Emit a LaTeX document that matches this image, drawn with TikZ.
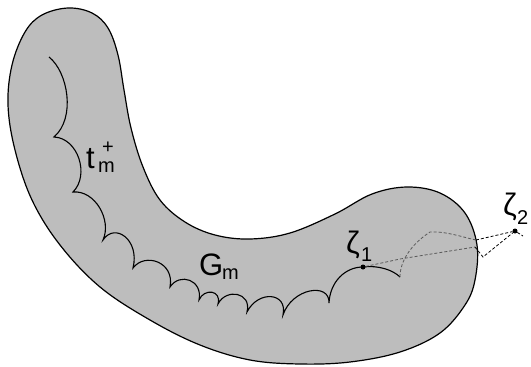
\documentclass[tikz,border=0pt]{standalone}
\usepackage{fontspec}
\setmainfont{Liberation Sans}
\begin{document}
\begin{tikzpicture}[x=1pt,y=-1pt,
  outline/.style={draw=black, line width=1.2pt, fill=black!26},
  scallop/.style={draw=black, line width=1.1pt},
  dsh/.style={dash pattern=on 3pt off 2pt, line width=0.8pt},
  dotnode/.style={circle, fill=black, inner sep=0pt, minimum size=5pt},
  lbl/.style={inner sep=0pt, anchor=base west, font=\fontsize{31}{33}\selectfont},
  idx/.style={inner sep=0pt, anchor=base west, font=\fontsize{20}{22}\selectfont}]
\useasboundingbox (0,0) rectangle (531,367);
% region G_m
\draw[outline] plot[smooth cycle, tension=0.6] coordinates {
 (68,8) (92,13) (108,28) (118,55) (124,90) (131,128) (143,167) (160,200)
 (185,222) (215,235) (250,239) (290,233) (335,214) (372,194) (407,187)
 (440,193) (465,213) (477,245) (475,280) (465,305) (440,333) (400,352)
 (350,362) (300,364) (250,360) (200,345) (150,320) (100,287) (60,245)
 (32,200) (15,150) (8,105) (12,65) (25,32) (42,15)};
% scalloped curve t_m^+
\coordinate (c0) at (49,57);
\coordinate (c11) at (400,277);
\draw[scallop] (c0) .. controls (68,72) and (76,118) .. (54,137)
 .. controls (78,138) and (90,175) .. (73,192)
 .. controls (95,190) and (112,220) .. (103,240)
 .. controls (115,222) and (140,240) .. (133,268)
 .. controls (145,252) and (175,262) .. (170,287)
 .. controls (180,272) and (203,280) .. (199,300)
 .. controls (204,288) and (222,290) .. (218,304)
 .. controls (226,288) and (252,292) .. (247,312)
 .. controls (258,290) and (288,292) .. (283,315)
 .. controls (292,288) and (330,282) .. (329,303)
 .. controls (330,282) and (345,267) .. (363,267)
 .. controls (378,265) and (393,270) .. (c11);
% points
\node[dotnode] (z1) at (363,267) {};
\node[dotnode] (z2) at (515,231) {};
\coordinate (b1) at (476,240);
\coordinate (b2) at (475,247);
\coordinate (v) at (483,257);
\coordinate (tail) at (523,236);
% dashed paths
\draw[dsh, draw=black!65] (c11) .. controls (400,262) and (410,245) .. (430,232)
  .. controls (445,231) and (462,237) .. (b1);
\draw[dsh, draw=black!65] (z1) -- (400,259) -- (b2);
\draw[dsh] (b1) -- (z2);
\draw[dsh] (b2) -- (v) -- (z2);
\draw[dsh] (z2) -- (tail);
% labels
\node[lbl] (lt) at (86,168) {t};
\node[idx] (ltm) at (98,172) {m};
\node[idx] (ltp) at (102,153) {+};
\node[lbl] (lg) at (199,275) {G};
\node[idx] (lgm) at (222,279) {m};
\node[lbl] (lz1) at (346,253) {ζ};
\node[idx] (lz1i) at (361,261) {1};
\node[lbl] (lz2) at (503,215) {ζ};
\node[idx] (lz2i) at (517,224) {2};
\end{tikzpicture}
\end{document}
